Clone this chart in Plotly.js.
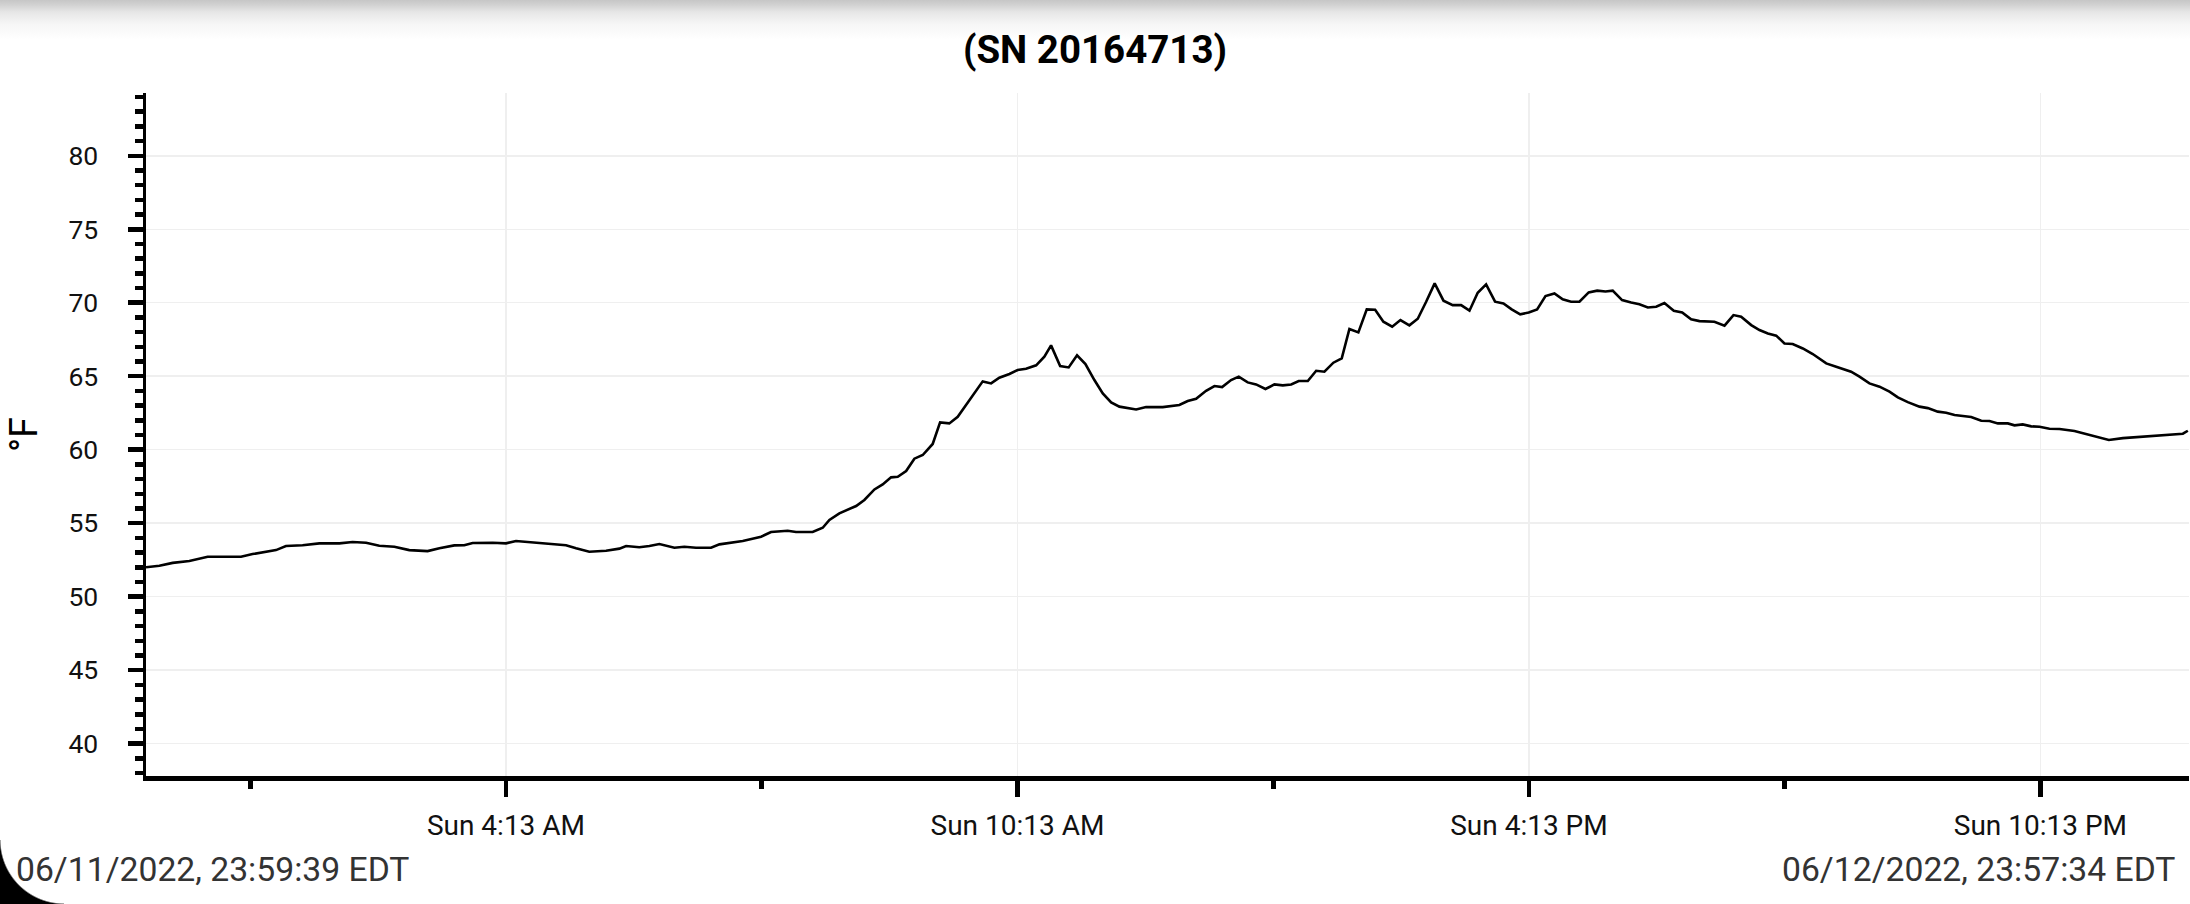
<!DOCTYPE html>
<html>
<head>
<meta charset="utf-8">
<script src="https://cdn.plot.ly/plotly-3.0.1.min.js"></script>
<style>
  html, body { margin: 0; padding: 0; width: 2190px; height: 904px; overflow: hidden;
    background: linear-gradient(to bottom, #c6c6c6 0px, #d2d2d2 5px, #e6e6e6 12px, #f6f6f6 24px, #ffffff 40px); }
  #corner { position: absolute; left: 0; bottom: 0; width: 64px; height: 64px; z-index: 0;
    background: radial-gradient(circle at 100% 0%, rgba(0,0,0,0) 63px, #000 64.5px); }
  #chart { position: absolute; left: 0; top: 0; width: 2190px; height: 904px; z-index: 1; }
</style>
</head>
<body>
<div id="corner"></div>
<div id="chart"></div>
<script>
// ---- data ----
const startTime = '2022-06-11 23:59:39';
const endTime   = '2022-06-12 23:57:34';
const chartTitle = '(SN 20164713)';
const unitLabel = '°F';
const startLabel = '06/11/2022, 23:59:39 EDT';
const endLabel   = '06/12/2022, 23:57:34 EDT';

// minutes after startTime
const minutesSinceStart = [
  0, 9.4, 18.8, 30.5, 43.4, 66.9, 75, 91.5, 98.5, 110.2, 122, 136.1, 145.4, 154.9, 164.2, 174.8, 185.3, 198.2, 206.5, 217,
  224, 229.9, 244, 253.4, 260.4, 269.8, 279.2, 295.6, 302.7, 312, 323.8, 333.2, 337.9, 347.2, 354.3, 361.3,
  371.9, 378.9, 387.1, 397.7, 403.6, 420, 432.9, 439.9, 451.6, 457.5, 469.2, 476.3, 481, 488, 499.8, 505.6, 512.7, 518.5, 524.4, 529.1,
  535, 540.8, 546.7, 553.7, 558.9, 565.4, 571.3, 580.7, 588.9, 594.8, 600.6, 607.7, 613.5, 619.4, 626.5, 632.3, 637, 643.4, 649.4, 655.3,
  661.2, 667.5, 673.4, 679.3, 685.1, 696.9, 703.9, 715.6, 727.3,
  733.2, 739.1, 746.1, 752, 757.4, 763.7, 769.1, 775.4, 781.3, 787.9, 794.2, 800.1, 806, 811.3, 817.7, 823.6, 829.4, 835.7, 841.6, 847,
  853.3, 859.2, 865.1, 870.9, 877.1, 882.9, 889.2, 895.1, 901, 907, 913.2, 919.7, 925.6, 931.5, 937.3, 943.2, 949.5, 955.4, 961.2, 967.2,
  973.2, 979.1, 985, 991.3, 997.1, 1003, 1008.9, 1015.4, 1021.4, 1027.2, 1032.3, 1038.9, 1045.3, 1051.1, 1057, 1062.9, 1068.7, 1075.3, 1081.2, 1087.5,
  1093.4, 1103.9, 1111, 1117.3, 1122.7, 1129.8, 1135.6, 1141.5, 1147.4, 1153.2, 1159, 1166.1, 1173.1, 1182.6, 1189.6, 1200.1, 1206, 1213, 1220.1, 1227.1,
  1233, 1240, 1248.2, 1254.1, 1261.1, 1267, 1272.9, 1284.6, 1291.7, 1297.5, 1303.4, 1310.4, 1315.1, 1320.9, 1326.9, 1332.7, 1339.7, 1346.8, 1357.3, 1367.9,
  1376.1, 1381.5, 1391.4, 1403.1, 1414.8, 1426.5, 1433.6, 1437.1
];

const temperatureF = [
  52.0, 52.1, 52.3, 52.43, 52.72, 52.72, 52.9, 53.17, 53.45, 53.5, 53.63, 53.63, 53.72, 53.67, 53.47, 53.4, 53.17, 53.1, 53.29, 53.49,
  53.5, 53.65, 53.67, 53.63, 53.79, 53.72, 53.67, 53.5, 53.29, 53.06, 53.13, 53.27, 53.45, 53.36, 53.45, 53.58,
  53.33, 53.4, 53.33, 53.33, 53.56, 53.79, 54.08, 54.4, 54.49, 54.4, 54.4, 54.69, 55.22, 55.67, 56.17, 56.58, 57.3, 57.64, 58.12, 58.16,
  58.55, 59.39, 59.64, 60.39, 61.86, 61.79, 62.24, 63.49, 64.65, 64.51, 64.9, 65.15, 65.42, 65.51, 65.74, 66.33, 67.1, 65.69, 65.6, 66.42,
  65.83, 64.74, 63.83, 63.22, 62.93, 62.74, 62.9, 62.9, 63.04,
  63.31, 63.47, 64.01, 64.33, 64.26, 64.74, 64.97, 64.58, 64.44, 64.13, 64.44, 64.38, 64.44, 64.67, 64.67, 65.37, 65.31, 65.92, 66.21, 68.21,
  67.98, 69.55, 69.52, 68.71, 68.37, 68.82, 68.46, 68.91, 70.07, 71.32, 70.14, 69.84, 69.84, 69.46, 70.68, 71.25, 70.07, 69.95, 69.55, 69.21,
  69.34, 69.55, 70.45, 70.63, 70.23, 70.07, 70.07, 70.7, 70.82, 70.77, 70.82, 70.18, 70.02, 69.89, 69.68, 69.73, 69.98, 69.46, 69.34, 68.87,
  68.75, 68.71, 68.44, 69.16, 69.05, 68.48, 68.14, 67.91, 67.76, 67.23, 67.19, 66.89, 66.51, 65.87, 65.65, 65.31, 64.97, 64.51, 64.29, 63.95,
  63.56, 63.24, 62.93, 62.83, 62.59, 62.52, 62.36, 62.22, 61.97, 61.95, 61.79, 61.79, 61.66, 61.72, 61.59, 61.56, 61.43, 61.41, 61.27, 61.0,
  60.84, 60.66, 60.79, 60.86, 60.98, 61.02, 61.09, 61.29
];

const yRange = [37.8, 84.27];
const xTick0 = '2022-06-12 04:13:00';

// ---- build timestamps ----
const t0 = Date.UTC(2022, 5, 11, 23, 59, 39);
function fmt(ms) { return new Date(ms).toISOString().slice(0, 19).replace('T', ' '); }
const times = minutesSinceStart.map(m => fmt(t0 + m * 60000));

const HOUR = 3600 * 1000;
const font = 'Roboto, "Noto Sans", sans-serif';

const trace = {
  x: times, y: temperatureF, type: 'scatter', mode: 'lines',
  line: { color: '#000000', width: 2.6 }, hoverinfo: 'none'
};

const layout = {
  width: 2190, height: 904,
  margin: { l: 146, r: 1, t: 93, b: 128, pad: 0 },
  paper_bgcolor: 'rgba(0,0,0,0)', plot_bgcolor: '#ffffff',
  showlegend: false,
  font: { family: font, color: '#111111' },
  title: {
    text: chartTitle, xref: 'container', x: 0.5, xanchor: 'center',
    yref: 'container', y: 1 - 50 / 904, yanchor: 'middle',
    font: { family: font, size: 38.5, weight: 'bold', color: '#000000' }
  },
  xaxis: {
    type: 'date', range: [startTime, endTime], automargin: false,
    tick0: xTick0, dtick: 6 * HOUR, tickformat: '%a %-I:%M %p',
    ticks: 'outside', ticklen: 16, tickwidth: 4.5, tickcolor: '#000',
    ticklabelstandoff: 5,
    tickfont: { family: font, size: 28, color: '#111111' },
    showline: true, linecolor: '#000', linewidth: 4.5,
    showgrid: true, gridcolor: '#efefef', gridwidth: 1.5, zeroline: false,
    minor: { tick0: xTick0, dtick: 3 * HOUR, ticks: 'outside', ticklen: 8, tickwidth: 5, tickcolor: '#000', showgrid: false }
  },
  yaxis: {
    range: yRange, automargin: false,
    tick0: 0, dtick: 5,
    ticks: 'outside', ticklen: 15, tickwidth: 4.5, tickcolor: '#000',
    ticklabelstandoff: 24,
    tickfont: { family: font, size: 26.5, color: '#111111' },
    showline: true, linecolor: '#000', linewidth: 3.5,
    showgrid: true, gridcolor: '#efefef', gridwidth: 1.5, zeroline: false,
    minor: { tick0: 0, dtick: 1, ticks: 'outside', ticklen: 8, tickwidth: 4.5, tickcolor: '#000', showgrid: false },
    title: { text: unitLabel, standoff: 20, font: { family: font, size: 38, color: '#000000' } }
  },
  annotations: [
    { text: startLabel, xref: 'paper', yref: 'paper', x: (15 - 146) / 2043, y: (776 - 869) / 683,
      xanchor: 'left', yanchor: 'middle', showarrow: false, borderpad: 0,
      font: { family: font, size: 33.7, color: '#333333' } },
    { text: endLabel, xref: 'paper', yref: 'paper', x: (2176 - 146) / 2043, y: (776 - 869) / 683,
      xanchor: 'right', yanchor: 'middle', showarrow: false, borderpad: 0,
      font: { family: font, size: 33.7, color: '#333333' } }
  ]
};

Plotly.newPlot('chart', [trace], layout, { displayModeBar: false, staticPlot: true });
</script>
</body>
</html>
